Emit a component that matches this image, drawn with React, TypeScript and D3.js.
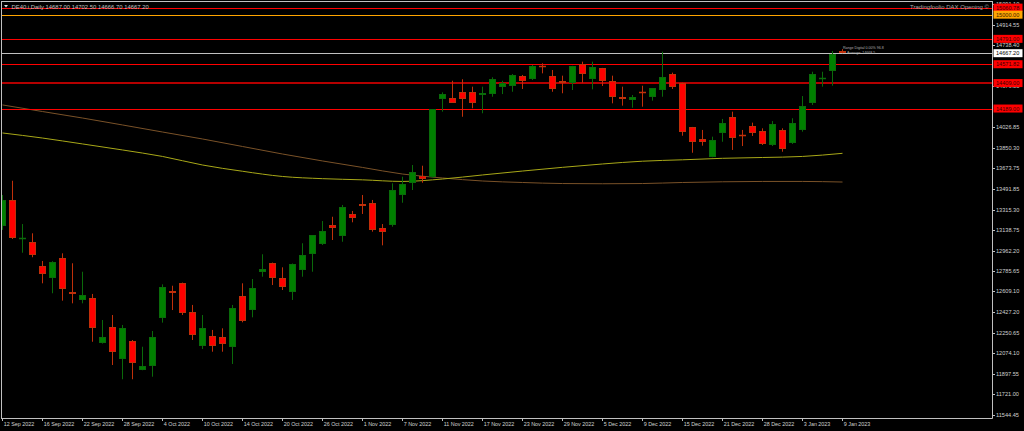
import React from "react";
import * as d3 from "d3";

const dates = [
  "2022-09-12","2022-09-13","2022-09-14","2022-09-15","2022-09-16","2022-09-19","2022-09-20","2022-09-21","2022-09-22","2022-09-23",
  "2022-09-26","2022-09-27","2022-09-28","2022-09-29","2022-09-30","2022-10-03","2022-10-04","2022-10-05","2022-10-06","2022-10-07",
  "2022-10-10","2022-10-11","2022-10-12","2022-10-13","2022-10-14","2022-10-17","2022-10-18","2022-10-19","2022-10-20","2022-10-21",
  "2022-10-24","2022-10-25","2022-10-26","2022-10-27","2022-10-28","2022-10-31","2022-11-01","2022-11-02","2022-11-03","2022-11-04",
  "2022-11-07","2022-11-08","2022-11-09","2022-11-10","2022-11-11","2022-11-14","2022-11-15","2022-11-16","2022-11-17","2022-11-18",
  "2022-11-21","2022-11-22","2022-11-23","2022-11-24","2022-11-25","2022-11-28","2022-11-29","2022-11-30","2022-12-01","2022-12-02",
  "2022-12-05","2022-12-06","2022-12-07","2022-12-08","2022-12-09","2022-12-12","2022-12-13","2022-12-14","2022-12-15","2022-12-16",
  "2022-12-19","2022-12-20","2022-12-21","2022-12-22","2022-12-23","2022-12-27","2022-12-28","2022-12-29","2022-12-30","2023-01-02",
  "2023-01-03","2023-01-04","2023-01-05","2023-01-06","2023-01-09"
];

const opens = [
  13177,13399,13066,13033,12831,12722,12895,12606,12535,12549,
  12161,12299,12022,12183,11930,11967,12377,12612,12679,12434,
  12140,12226,12213,12131,12569,12448,12779,12852,12722,12604,
  12794,12932,13019,13180,13090,13275,13364,13370,13154,13185,
  13445,13543,13609,13595,14269,14277,14329,14329,14308,14312,
  14378,14386,14473,14444,14553,14470,14429,14412,14574,14444,
  14537,14427,14286,14263,14331,14291,14347,14487,14407,14027,
  13926,13773,13980,14118,13962,14041,13998,13874,14004,13889,
  14004,14239,14448,14513,14687
];
const highs = [
  13442,13565,13191,13111,12872,12870,12938,12852,12779,12587,
  12362,12405,12319,12189,12131,12267,12670,12658,12685,12492,
  12405,12276,12290,12492,12679,12716,12930,12858,12817,12850,
  13025,13096,13217,13254,13356,13304,13442,13399,13191,13543,
  13600,13701,13695,14185,14329,14429,14442,14378,14378,14459,
  14429,14487,14479,14565,14580,14522,14473,14558,14594,14594,
  14540,14473,14378,14306,14386,14365,14680,14499,14412,14030,
  14004,13946,14099,14162,14004,14067,14018,14081,14018,14105,
  14297,14507,14507,14686,14702.5
];
const lows = [
  13140,13062,12943,12904,12679,12593,12529,12506,12506,12174,
  12158,11973,11850,11850,11928,11872,12339,12448,12405,12189,
  12111,12088,12088,11982,12342,12385,12736,12664,12621,12535,
  12736,12779,13010,13053,13038,13206,13278,13125,13007,13168,
  13375,13485,13548,13589,14162,14237,14118,14191,14148,14291,
  14314,14334,14358,14435,14493,14334,14321,14349,14412,14355,
  14384,14234,14214,14196,14205,14257,14291,14358,13954,13807,
  13868,13768,13902,13831,13865,13952,13874,13865,13816,13883,
  13989,14220,14378,14386,14666.7
];
const closes = [
  13399,13068,13070,12926,12757,12866,12627,12584,12578,12290,
  12218,12088,12290,11993,11965,12218,12650,12593,12425,12232,
  12295,12140,12152,12463,12356,12638,12805,12727,12650,12846,
  12924,13094,13131,13159,13341,13246,13349,13137,13122,13485,
  13537,13638,13578,14182,14312,14239,14269,14234,14326,14442,
  14407,14479,14429,14556,14548,14355,14412,14556,14487,14550,
  14429,14291,14271,14291,14327,14364,14464,14378,13984,13902,
  13897,13917,14061,13937,13959,13975,13880,14055,13837,14061,
  14214,14487,14452,14660,14667.2
];

const tickDates = [
  "2022-09-12","2022-09-16","2022-09-22","2022-09-28","2022-10-04","2022-10-10","2022-10-14","2022-10-20","2022-10-26","2022-11-01",
  "2022-11-07","2022-11-11","2022-11-17","2022-11-23","2022-11-29","2022-12-05","2022-12-09","2022-12-15","2022-12-21","2022-12-28",
  "2023-01-03","2023-01-09"
];
const tickLabels = [
  "12 Sep 2022","16 Sep 2022","22 Sep 2022","28 Sep 2022","4 Oct 2022","10 Oct 2022","14 Oct 2022","20 Oct 2022","26 Oct 2022","1 Nov 2022",
  "7 Nov 2022","11 Nov 2022","17 Nov 2022","23 Nov 2022","29 Nov 2022","5 Dec 2022","9 Dec 2022","15 Dec 2022","21 Dec 2022","28 Dec 2022",
  "3 Jan 2023","9 Jan 2023"
];

const maDates = tickDates;
const yellowMA = [13978,13934,13883,13831,13775,13701,13647,13602,13583,13573,13559,13580,13615,13649,13681,13710,13734,13746,13759,13766,13775,13802];
const brownMA = [14220,14163,14107,14047,13986,13926,13861,13796,13736,13680,13623,13589,13563,13550,13541,13539,13541,13550,13556,13559,13559,13554];

const priceTicks = [15091.10,14914.55,14738.40,14379.55,14026.85,13850.30,13673.75,13491.85,13315.30,13138.75,12962.20,12785.65,12609.10,12427.20,12250.65,12074.10,11897.55,11721.00,11544.45];

const levelPrices = [15060.78, 15000.00, 14791.00, 14571.82, 14409.00, 14189.00];
const levelKinds = ["red", "orange", "red", "red", "dark", "red"];
const bidPrice = 14667.20;
const symbolName = "DE40.i,Daily";
const titleRight = "Tradingfoolio DAX Opening \u00A9";

const LEVEL_STYLE: Record<string, { line: string; width: number; box: string; text: string }> = {
  red: { line: "#ff0000", width: 1, box: "#ff0000", text: "#3a0000" },
  orange: { line: "#ffa500", width: 1, box: "#ffa500", text: "#3a2000" },
  dark: { line: "#b40000", width: 2, box: "#ff0000", text: "#3a0000" },
};

const W = 1024, H = 431;
const L = 2, R = 992, T = 2, B = 418;
const FONT = "'Liberation Sans', Arial, sans-serif";

export default function App() {
  const x = d3.scalePoint<string>().domain(dates).range([2.5, 842.5]);
  const y = d3.scaleLinear().domain([11515.2, 15109.44]).range([B, T]);

  const maLine = (vals: number[]) =>
    d3.line<number>()
      .x((_, i) => x(maDates[i]) as number)
      .y((v) => y(v))
      .curve(d3.curveMonotoneX)(vals) || "";

  const fmt = (v: number) => v.toFixed(2);
  const last = dates.length - 1;
  const header = `${symbolName}  ${fmt(opens[last])} ${fmt(highs[last])} ${fmt(lows[last])} ${fmt(closes[last])}`;

  const bull = { fill: "#008000", wick: "#0a6a0a" };
  const bear = { fill: "#ff0000", wick: "#c0300a" };

  return (
    <svg width={W} height={H} style={{ position: "absolute", left: 0, top: 0, background: "#000", display: "block" }}>
      <defs>
        <clipPath id="plot">
          <rect x={L} y={T} width={R - L} height={B - T} />
        </clipPath>
      </defs>
      <rect x={0} y={0} width={W} height={H} fill="#000" />

      <g clipPath="url(#plot)">
        {/* moving averages */}
        <path d={maLine(brownMA)} fill="none" stroke="#7a5228" strokeWidth={1} />
        <path d={maLine(yellowMA)} fill="none" stroke="#a8a818" strokeWidth={1} />

        {/* horizontal levels */}
        {levelPrices.map((p, i) => {
          const st = LEVEL_STYLE[levelKinds[i]];
          const yy = Math.round(y(p)) + (st.width === 1 ? 0.5 : 0);
          return <line key={"lv" + i} x1={L} x2={R} y1={yy} y2={yy} stroke={st.line} strokeWidth={st.width} />;
        })}
        <line x1={L} x2={R} y1={Math.round(y(bidPrice)) + 0.5} y2={Math.round(y(bidPrice)) + 0.5} stroke="#c0c0c0" strokeWidth={1} />

        {/* candles */}
        {dates.map((d, i) => {
          const o = opens[i], c = closes[i], h = highs[i], l = lows[i];
          const up = c >= o;
          const col = up ? bull : bear;
          const cx = x(d) as number;
          const top = Math.round(y(Math.max(o, c)));
          const bot = Math.round(y(Math.min(o, c)));
          const bh = Math.max(1, bot - top);
          return (
            <g key={d}>
              <line x1={cx} x2={cx} y1={y(h)} y2={y(l)} stroke={col.wick} strokeWidth={1} />
              {bh <= 1 ? (
                <line x1={cx - 3.5} x2={cx + 3.5} y1={top + 0.5} y2={top + 0.5} stroke={col.wick} strokeWidth={1.5} />
              ) : (
                <rect x={cx - 3} y={top + 0.5} width={6} height={bh - 1 > 0 ? bh - 1 : 1} fill={col.fill} stroke={col.wick} strokeWidth={1} />
              )}
            </g>
          );
        })}

        {/* indicator caption next to last bar */}
        <text x={843} y={49} fontSize={3.6} fill="#b0b0b0" fontFamily={FONT}>Range Digital 0.00% 96.8</text>
        <text x={847} y={53.5} fontSize={3.6} fill="#b0b0b0" fontFamily={FONT}>Average: 14668.5</text>
      </g>

      {/* frame */}
      <line x1={1.5} x2={1.5} y1={1} y2={B + 0.5} stroke="#c0c0c0" />
      <line x1={1} x2={R + 0.5} y1={1.5} y2={1.5} stroke="#c0c0c0" />
      <line x1={R + 0.5} x2={R + 0.5} y1={1} y2={B + 0.5} stroke="#c0c0c0" />
      <line x1={1} x2={R + 0.5} y1={B + 0.5} y2={B + 0.5} stroke="#c0c0c0" />

      {/* header */}
      <polygon points="4,5 8,5 6,7.5" fill="#e0e0e0" />
      <text x={11.5} y={9} fontSize={5.9} fill="#c0c0c0" fontFamily={FONT}>{header}</text>
      <text x={989} y={9} fontSize={6} fill="#a8a8a8" fontFamily={FONT} textAnchor="end">{titleRight}</text>

      {/* price axis */}
      {priceTicks.map((p, i) => {
        const yy = y(p);
        return (
          <g key={"pt" + i}>
            <line x1={R} x2={R + 3} y1={Math.round(yy) + 0.5} y2={Math.round(yy) + 0.5} stroke="#c0c0c0" />
            <text x={996} y={yy + 2} fontSize={5.6} fill="#d0d0d0" fontFamily={FONT}>{fmt(p)}</text>
          </g>
        );
      })}

      {/* level boxes */}
      {levelPrices.map((p, i) => {
        const st = LEVEL_STYLE[levelKinds[i]];
        const yy = y(p);
        return (
          <g key={"lb" + i}>
            <rect x={993.5} y={yy - 4} width={29} height={8} fill={st.box} />
            <text x={996} y={yy + 2} fontSize={5.6} fill={st.text} fontFamily={FONT}>{fmt(p)}</text>
          </g>
        );
      })}
      <g>
        <rect x={993.5} y={y(bidPrice) - 4} width={29} height={8} fill="#ffffff" />
        <text x={996} y={y(bidPrice) + 2} fontSize={5.6} fill="#000" fontFamily={FONT}>{fmt(bidPrice)}</text>
      </g>

      {/* time axis */}
      {tickDates.map((d, i) => {
        const xx = x(d) as number;
        return (
          <g key={"tt" + i}>
            <line x1={xx} x2={xx} y1={B} y2={B + 3} stroke="#c0c0c0" />
            <text x={xx + 1.2} y={426} fontSize={5.4} fill="#d0d0d0" fontFamily={FONT}>{tickLabels[i]}</text>
          </g>
        );
      })}
    </svg>
  );
}
